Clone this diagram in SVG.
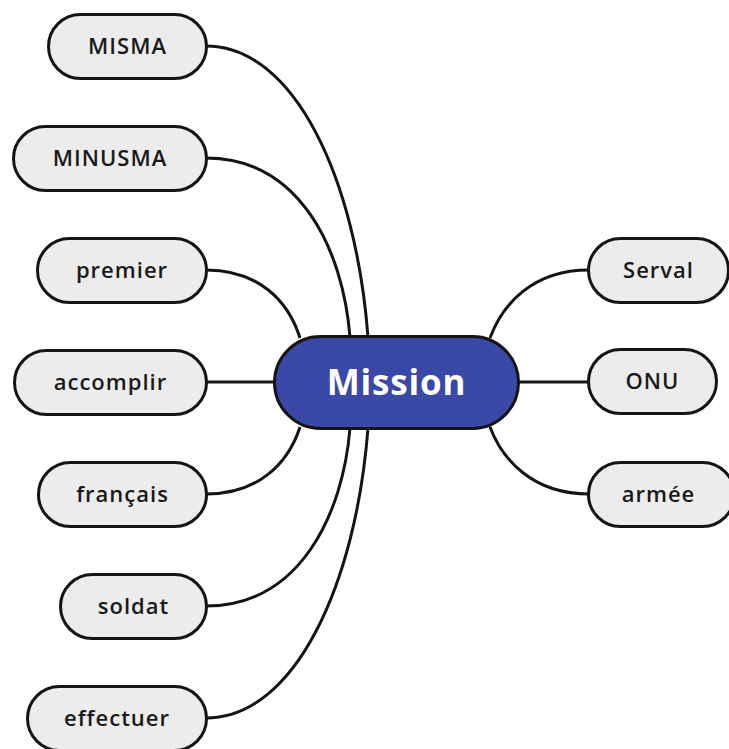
<svg xmlns="http://www.w3.org/2000/svg" width="729" height="749" viewBox="0 0 729 749">
  <style>
    .edge { fill: none; stroke: #141414; stroke-width: 3; }
    .leaf rect { fill: #ececec; stroke: #141414; stroke-width: 3; }
    .leaf text { font-family: "Open Sans", "Liberation Sans", sans-serif; font-weight: 600; font-size: 22px; fill: #1a1a1a; text-anchor: middle; letter-spacing: 1px; }
    .root rect { fill: #3a48a8; stroke: #141414; stroke-width: 3; }
    .root text { font-family: "Open Sans", "Liberation Sans", sans-serif; font-weight: 700; font-size: 35px; fill: #ffffff; text-anchor: middle; letter-spacing: 0.8px; }
  </style>
  <rect width="729" height="749" fill="#ffffff"/>
  <g id="connectors">
    <path class="edge" d="M206,46 C295,46 356,180 368,337"/>
    <path class="edge" d="M206,158 C300,158 343,250 350,337"/>
    <path class="edge" d="M206,270 C258,270 288,300 300,338"/>
    <path class="edge" d="M206,382 L276,382"/>
    <path class="edge" d="M206,494 C258,494 288,464 300,427"/>
    <path class="edge" d="M206,606 C300,606 343,514 350,428"/>
    <path class="edge" d="M206,718 C295,718 356,584 368,428"/>
    <path class="edge" d="M589,270 C532,270 502,305 490,338"/>
    <path class="edge" d="M517,382 L589,382"/>
    <path class="edge" d="M589,494 C532,494 502,459 490,427"/>
  </g>
  <g id="node-mission" class="root">
    <rect x="274.5" y="336.5" width="244" height="92" rx="46"/>
    <text x="396.5" y="395">Mission</text>
  </g>
  <g id="node-misma" class="leaf">
    <rect x="48.5" y="14.5" width="158" height="64" rx="32"/>
    <text x="127.5" y="54">MISMA</text>
  </g>
  <g id="node-minusma" class="leaf">
    <rect x="13.5" y="126.5" width="193" height="64" rx="32"/>
    <text x="110" y="166">MINUSMA</text>
  </g>
  <g id="node-premier" class="leaf">
    <rect x="37.5" y="238.5" width="169" height="64" rx="32"/>
    <text x="122" y="278">premier</text>
  </g>
  <g id="node-accomplir" class="leaf">
    <rect x="14.5" y="350.5" width="192" height="64" rx="32"/>
    <text x="110.5" y="390">accomplir</text>
  </g>
  <g id="node-francais" class="leaf">
    <rect x="38.5" y="462.5" width="168" height="64" rx="32"/>
    <text x="122.5" y="502">français</text>
  </g>
  <g id="node-soldat" class="leaf">
    <rect x="60.5" y="574.5" width="146" height="64" rx="32"/>
    <text x="133.5" y="614">soldat</text>
  </g>
  <g id="node-effectuer" class="leaf">
    <rect x="27.5" y="686.5" width="179" height="64" rx="32"/>
    <text x="117" y="726">effectuer</text>
  </g>
  <g id="node-serval" class="leaf">
    <rect x="588.5" y="238.5" width="140" height="64" rx="32"/>
    <text x="658.5" y="278">Serval</text>
  </g>
  <g id="node-onu" class="leaf">
    <rect x="588.5" y="349.5" width="128" height="64" rx="32"/>
    <text x="652.5" y="389">ONU</text>
  </g>
  <g id="node-armee" class="leaf">
    <rect x="588.5" y="462.5" width="146" height="64" rx="32"/>
    <text x="658.5" y="502">armée</text>
  </g>
</svg>
